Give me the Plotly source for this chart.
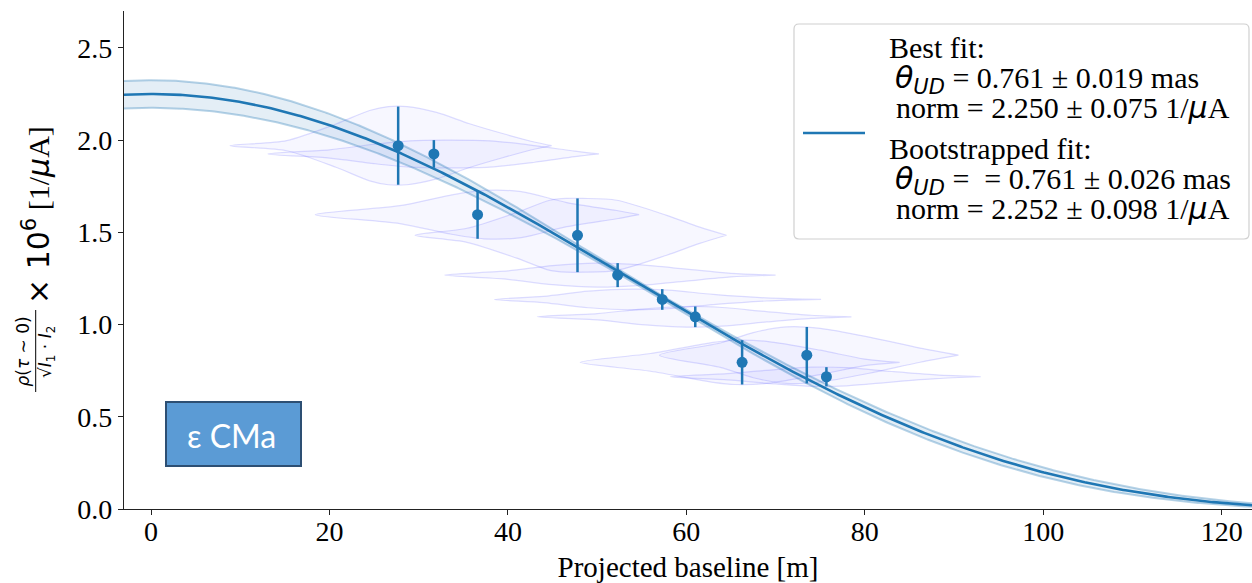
import numpy as np
import plotly.graph_objects as go

# ---------------------------------------------------------------------------
# Measured zero-lag correlation per telescope pair
# ---------------------------------------------------------------------------
baseline = [27.7, 31.7, 36.6, 47.8, 52.3, 57.3, 61.0, 66.25, 73.5, 75.7]
corr = [1.970, 1.925, 1.596, 1.484, 1.268, 1.136, 1.042, 0.795, 0.834, 0.717]
corr_err = [0.212, 0.075, 0.131, 0.200, 0.065, 0.056, 0.056, 0.120, 0.153, 0.052]

# Projected-baseline coverage of each run (baseline knots [m] and relative density)
cov_baseline = [
    [8.85, 15.2, 20.8, 24.5, 26.6, 28.7, 32.0, 35.7, 39.4, 43.2, 44.9],
    [13.1, 20.0, 25.0, 29.0, 33.0, 38.0, 43.0, 47.5, 50.2],
    [18.4, 27.9, 33.5, 37.3, 41.5, 46.6, 52.2, 54.7],
    [29.6, 35.4, 41.0, 44.7, 46.6, 48.4, 52.2, 57.8, 61.5, 64.5],
    [32.9, 40.0, 45.0, 50.0, 55.0, 60.0, 65.0, 70.0],
    [38.5, 44.0, 49.0, 54.0, 58.0, 63.0, 69.0, 75.1],
    [43.3, 50.0, 55.0, 60.0, 64.0, 69.0, 74.0, 78.5],
    [48.1, 56.0, 63.0, 65.5, 69.0, 75.0, 80.0, 83.9],
    [57.0, 63.8, 67.5, 71.2, 75.0, 80.5, 86.2, 90.5],
    [58.2, 65.0, 70.0, 74.0, 78.0, 83.0, 88.0, 93.0],
]
cov_density = [
    [0.0, 0.13, 0.56, 0.90, 1.0, 1.0, 0.85, 0.56, 0.31, 0.08, 0.0],
    [0.0, 0.30, 0.70, 0.95, 1.0, 0.95, 0.60, 0.20, 0.0],
    [0.0, 0.37, 0.80, 1.0, 0.95, 0.50, 0.17, 0.0],
    [0.0, 0.19, 0.62, 0.95, 1.0, 1.0, 0.95, 0.54, 0.22, 0.0],
    [0.0, 0.35, 0.80, 1.0, 0.85, 0.50, 0.15, 0.0],
    [0.0, 0.30, 0.80, 1.0, 0.90, 0.50, 0.15, 0.0],
    [0.0, 0.30, 0.75, 1.0, 0.90, 0.50, 0.15, 0.0],
    [0.0, 0.40, 0.90, 1.0, 0.95, 0.55, 0.15, 0.0],
    [0.0, 0.43, 0.80, 1.0, 0.95, 0.64, 0.25, 0.0],
    [0.0, 0.35, 0.75, 1.0, 0.95, 0.55, 0.20, 0.0],
]

# Uniform-disk fit results
theta_fit, theta_fit_err = 0.761, 0.019      # mas
norm_fit, norm_fit_err = 2.250, 0.075        # 1/uA
theta_boot, theta_boot_err = 0.761, 0.026
norm_boot, norm_boot_err = 2.252, 0.098
wavelength = 416e-9                          # m
param_corr = 0.97

x_ticks = [0, 20, 40, 60, 80, 100, 120]
y_ticks = [0.0, 0.5, 1.0, 1.5, 2.0, 2.5]

BLUE = "#1f77b4"
SERIF = "Liberation Serif"
SANS = "DejaVu Sans"


def bessel_j1(x):
    tau = np.linspace(0.0, np.pi, 401)
    integrand = np.cos(tau[None, :] - np.asarray(x)[:, None] * np.sin(tau[None, :]))
    return np.trapezoid(integrand, tau, axis=1) / np.pi


def ud_model(b, theta_mas, norm):
    theta = theta_mas * 1e-3 / 206264.806
    x = np.pi * theta * np.abs(b) / wavelength
    safe = np.where(x < 1e-9, 1e-9, x)
    vis = np.where(x < 1e-9, 1.0, 2.0 * bessel_j1(safe) / safe)
    return norm * vis ** 2


b_grid = np.linspace(-3.03, 123.4, 500)
best_curve = ud_model(b_grid, theta_fit, norm_fit)

# 1-sigma envelope from the (correlated) parameter ellipse
phase = np.linspace(0, 2 * np.pi, 90, endpoint=False)
env = []
for t in phase:
    n = norm_fit + norm_fit_err * np.cos(t)
    th = theta_fit + theta_fit_err * (param_corr * np.cos(t) + np.sqrt(1 - param_corr ** 2) * np.sin(t))
    env.append(ud_model(b_grid, th, n))
env = np.array(env)
band_hi, band_lo = env.max(axis=0), env.min(axis=0)

fig = go.Figure()

# Baseline-coverage violins
for yb, ye, kb, kw in zip(corr, corr_err, cov_baseline, cov_density):
    kb = np.array(kb)
    kw = np.array(kw)
    xs = np.concatenate([kb, kb[::-1]])
    ys = np.concatenate([yb + ye * kw, (yb - ye * kw)[::-1]])
    fig.add_trace(go.Scatter(
        x=xs, y=ys, mode="lines", fill="toself",
        fillcolor="rgba(60,60,255,0.045)",
        line=dict(color="rgba(90,90,255,0.2)", width=1.2, shape="spline", smoothing=0.8),
        hoverinfo="skip", showlegend=False,
    ))

# Uncertainty band of the fit
fig.add_trace(go.Scatter(x=b_grid, y=band_lo, mode="lines",
                         line=dict(color="rgba(31,119,180,0.32)", width=2),
                         hoverinfo="skip", showlegend=False))
fig.add_trace(go.Scatter(x=b_grid, y=band_hi, mode="lines", fill="tonexty",
                         fillcolor="rgba(31,119,180,0.12)",
                         line=dict(color="rgba(31,119,180,0.32)", width=2),
                         hoverinfo="skip", showlegend=False))

# Best-fit uniform disk
fig.add_trace(go.Scatter(x=b_grid, y=best_curve, mode="lines",
                         line=dict(color=BLUE, width=2.6), showlegend=False))

# Measurements
fig.add_trace(go.Scatter(
    x=baseline, y=corr, mode="markers",
    marker=dict(color=BLUE, size=11),
    error_y=dict(type="data", array=corr_err, color=BLUE, thickness=2.5, width=0),
    showlegend=False,
))

# ---------------------------------------------------------------------------
# Layout helpers (pixel -> paper)
# ---------------------------------------------------------------------------
W, H = 1252, 583
L, R, T, B = 124, 0, 11, 74
PW, PH = W - L - R, H - T - B


def px(xp):
    return (xp - L) / PW


def py(yp):
    return (H - B - yp) / PH


shapes = []
annotations = []

# Legend box with rounded corners
x0, x1, y0, y1 = px(794), px(1249), py(239), py(24)
rx, ry = 5 / PW, 5 / PH
path = (f"M {x0+rx},{y0} L {x1-rx},{y0} Q {x1},{y0} {x1},{y0+ry} "
        f"L {x1},{y1-ry} Q {x1},{y1} {x1-rx},{y1} L {x0+rx},{y1} "
        f"Q {x0},{y1} {x0},{y1-ry} L {x0},{y0+ry} Q {x0},{y0} {x0+rx},{y0} Z")
shapes.append(dict(type="path", xref="paper", yref="paper", path=path,
                   line=dict(color="#d0d0d0", width=1.2), fillcolor="white", layer="above"))
shapes.append(dict(type="line", xref="paper", yref="paper",
                   x0=px(803), x1=px(865), y0=py(133), y1=py(133),
                   line=dict(color=BLUE, width=2.6), layer="above"))

theta_sym = f'<span style="font-family:{SANS}"><i>θ</i><sub><i>UD</i></sub></span>'
mu_sym = f'<span style="font-family:{SANS}"><i>μ</i></span>'
legend_lines = [
    (887, 47, "Best fit:"),
    (893, 79, f"{theta_sym} = {theta_fit:.3f} ± {theta_fit_err:.3f} mas"),
    (894, 108, f"norm = {norm_fit:.3f} ± {norm_fit_err:.3f} 1/{mu_sym}A"),
    (887, 148, "Bootstrapped fit:"),
    (893, 180, f"{theta_sym} =  = {theta_boot:.3f} ± {theta_boot_err:.3f} mas"),
    (894, 209, f"norm = {norm_boot:.3f} ± {norm_boot_err:.3f} 1/{mu_sym}A"),
]
for xl, yc, txt in legend_lines:
    annotations.append(dict(xref="paper", yref="paper", x=px(xl), y=py(yc),
                            xanchor="left", yanchor="middle", showarrow=False,
                            text=txt, font=dict(family=SERIF, size=30, color="black")))

# Star label
shapes.append(dict(type="rect", xref="paper", yref="paper",
                   x0=px(166), x1=px(301), y0=py(466), y1=py(402),
                   fillcolor="#5b9bd5", line=dict(color="#2d4f73", width=2), layer="above"))
annotations.append(dict(xref="paper", yref="paper", x=px(231), y=py(435),
                        xanchor="center", yanchor="middle", showarrow=False,
                        text="ε CMa", font=dict(family="Lato", size=32, color="white")))

# Y-axis label: fraction + scaling factor
annotations.append(dict(xref="paper", yref="paper", x=px(22.5), y=py(352),
                        xanchor="center", yanchor="middle", showarrow=False, textangle=-90,
                        text="<i>ρ</i>(<i>τ</i> ∼ 0)",
                        font=dict(family=SANS, size=17, color="black")))
shapes.append(dict(type="line", xref="paper", yref="paper",
                   x0=px(35.7), x1=px(35.7), y0=py(392), y1=py(310),
                   line=dict(color="black", width=1)))
annotations.append(dict(xref="paper", yref="paper", x=px(46), y=py(352),
                        xanchor="center", yanchor="middle", showarrow=False, textangle=-90,
                        text="√<i>I</i><sub>1</sub> · <i>I</i><sub>2</sub>",
                        font=dict(family=SANS, size=17, color="black")))
annotations.append(dict(xref="paper", yref="paper", x=px(36), y=py(215),
                        xanchor="center", yanchor="middle", showarrow=False, textangle=-90,
                        text=f'<span style="font-family:{SANS}">× 10<sup>6</sup></span> [1/{mu_sym}A]',
                        font=dict(family=SERIF, size=30, color="black")))

axis_common = dict(showline=True, linecolor="#222", linewidth=1.3, ticks="outside",
                   ticklen=5, tickwidth=1.3, tickcolor="#222", showgrid=False,
                   zeroline=False, tickfont=dict(family=SERIF, size=28, color="black"))

fig.update_layout(
    width=W, height=H,
    margin=dict(l=L, r=R, t=T, b=B, autoexpand=False),
    paper_bgcolor="white", plot_bgcolor="white",
    xaxis=dict(range=[-3.03, 123.4], tickvals=x_ticks, ticktext=[str(v) for v in x_ticks],
               ticklabelstandoff=-8,
               title=dict(text="Projected baseline [m]", standoff=10,
                          font=dict(family=SERIF, size=29, color="black")),
               **axis_common),
    yaxis=dict(range=[0, 2.7], tickvals=y_ticks, ticktext=[f"{v:.1f}" for v in y_ticks],
               **axis_common),
    shapes=shapes, annotations=annotations, showlegend=False,
)

fig.write_html("out.html")
